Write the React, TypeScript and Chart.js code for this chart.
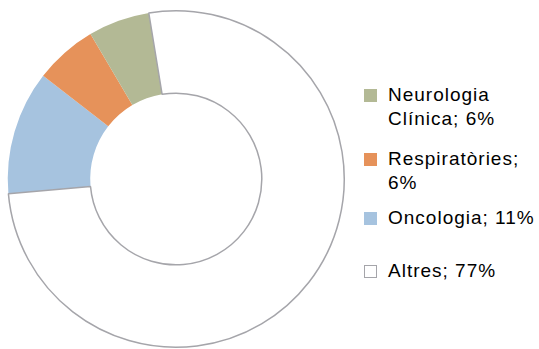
import React, { useEffect, useRef } from "react";
import { Chart, registerables } from "chart.js";

Chart.register(...registerables);

// Slices in drawing order (clockwise, starting at the Oncologia edge)
const categories = ["Oncologia", "Respiratòries", "Neurologia Clínica", "Altres"];
const sliceValues = [11.9, 6.0, 5.9, 76.2];
const sliceColors = ["#A6C3DF", "#E6925A", "#B3B995", "#FFFFFF"];
const sliceBorders = ["#A6C3DF", "#E6925A", "#B3B995", "#A5A5AA"];
const sliceBorderWidths = [0, 0, 0, 1.5];

// Legend (top to bottom)
const legendCategories = ["Neurologia Clínica", "Respiratòries", "Oncologia", "Altres"];
const legendPercents = [6, 6, 11, 77];
const legendFill = ["#B3B995", "#E6925A", "#A6C3DF", "#FFFFFF"];
const legendStroke = ["#B3B995", "#E6925A", "#A6C3DF", "#A5A5AA"];
const legendBaselines = [102, 166, 225, 278];

export default function App() {
  const ref = useRef<HTMLCanvasElement | null>(null);

  useEffect(() => {
    if (!ref.current) return;
    const chart = new Chart(ref.current, {
      type: "doughnut",
      data: {
        labels: categories,
        datasets: [
          {
            data: sliceValues,
            backgroundColor: sliceColors,
            borderColor: sliceBorders,
            borderWidth: sliceBorderWidths,
          },
        ],
      },
      options: {
        responsive: false,
        animation: false,
        devicePixelRatio: 1,
        cutout: "51%",
        rotation: -95,
        layout: { padding: { top: 10, bottom: 1, left: 7, right: 7 } },
        plugins: {
          legend: { display: false },
          tooltip: { enabled: false },
        },
      },
    });
    return () => chart.destroy();
  }, []);

  return (
    <div
      style={{
        position: "fixed",
        left: 0,
        top: 0,
        width: 539,
        height: 349,
        background: "#fff",
        overflow: "hidden",
      }}
    >
      <canvas
        ref={ref}
        width={352}
        height={349}
        style={{ position: "absolute", left: 0, top: 0, width: 352, height: 349 }}
      />
      {legendCategories.map((c, i) => (
        <React.Fragment key={c}>
          <div
            style={{
              position: "absolute",
              left: 364,
              top: legendBaselines[i] - 13,
              width: i === 3 ? 11 : 13,
              height: i === 3 ? 11 : 13,
              background: legendFill[i],
              border: i === 3 ? `1px solid ${legendStroke[i]}` : "none",
            }}
          />
          <div
            style={{
              position: "absolute",
              left: 388,
              top: legendBaselines[i] - 19,
              width: 151,
              fontFamily: '"Liberation Sans", Arial, Helvetica, sans-serif',
              fontSize: 19,
              lineHeight: "24px",
              letterSpacing: "1px",
              color: "#000",
              whiteSpace: "normal",
            }}
          >
            {`${c}; ${legendPercents[i]}%`}
          </div>
        </React.Fragment>
      ))}
    </div>
  );
}
